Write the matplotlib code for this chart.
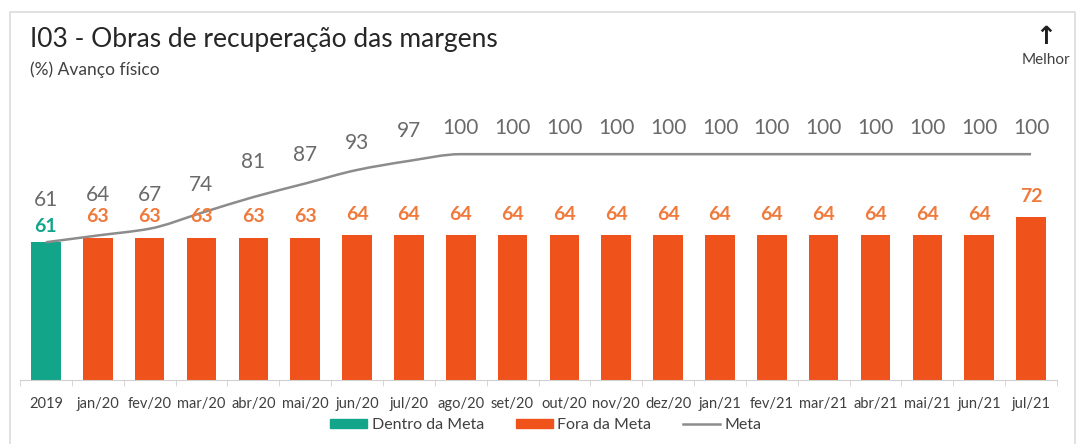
import numpy as np
import matplotlib
matplotlib.use("Agg")
import matplotlib.pyplot as plt
from matplotlib.patches import Patch, Rectangle, PathPatch
from matplotlib.lines import Line2D
from matplotlib.path import Path

categories = ["2019", "jan/20", "fev/20", "mar/20", "abr/20", "mai/20", "jun/20", "jul/20",
              "ago/20", "set/20", "out/20", "nov/20", "dez/20", "jan/21", "fev/21", "mar/21",
              "abr/21", "mai/21", "jun/21", "jul/21"]
realizado = [61, 63, 63, 63, 63, 63, 64, 64, 64, 64, 64, 64, 64, 64, 64, 64, 64, 64, 64, 72]
meta = [61, 64, 67, 74, 81, 87, 93, 97, 100, 100, 100, 100, 100, 100, 100, 100, 100, 100, 100, 100]
dentro = [True] + [False] * 19

W, H = 1079, 444
fig = plt.figure(figsize=(W / 100, H / 100), dpi=100)

GREEN = "#12A58A"
ORANGE = "#F0521C"
ORANGE_TXT = "#F07A3C"
GRAY_LINE = "#8C8C8C"
GRAY_TXT = "#6A6A6A"

n = len(categories)
x = np.arange(n)
left_px, right_px, base_px, top_px = 20, 1057, 380, 109
ax = fig.add_axes([left_px / W, 1 - base_px / H, (right_px - left_px) / W, (base_px - top_px) / H])
ax.set_xlim(-0.5, n - 0.5)
ax.set_ylim(0, 120)

colors = [GREEN if d else ORANGE for d in dentro]
ax.bar(x, realizado, width=0.57, color=colors, zorder=2)

# smoothed meta line (monotone cubic tangents -> cubic Bezier)
px = x.astype(float)
py = np.array(meta, dtype=float)
d = np.diff(py)
m = np.zeros(n)
m[0], m[-1] = d[0], d[-1]
for i in range(1, n - 1):
    if d[i - 1] * d[i] <= 0:
        m[i] = 0.0
    else:
        m[i] = 2 * d[i - 1] * d[i] / (d[i - 1] + d[i])
verts = [(px[0], py[0])]
codes = [Path.MOVETO]
for i in range(n - 1):
    verts += [(px[i] + 1 / 3, py[i] + m[i] / 3),
              (px[i + 1] - 1 / 3, py[i + 1] - m[i + 1] / 3),
              (px[i + 1], py[i + 1])]
    codes += [Path.CURVE4] * 3
ax.add_patch(PathPatch(Path(verts, codes), fill=False, edgecolor=GRAY_LINE, lw=1.8, zorder=3))

bar_lbl_off = [5] + [9] * (n - 1)
meta_lbl_off = [23, 22, 17, 13, 18, 13, 12, 14] + [12] * (n - 8)
for i in range(n):
    ax.annotate(str(realizado[i]), (x[i], realizado[i]), xytext=(0, bar_lbl_off[i]),
                textcoords="offset points", ha="center", va="bottom",
                fontsize=14, fontweight="bold", color=GREEN if dentro[i] else ORANGE_TXT,
                family="Lato", zorder=4)
    ax.annotate(str(meta[i]), (x[i], meta[i]), xytext=(0, meta_lbl_off[i]),
                textcoords="offset points", ha="center", va="bottom",
                fontsize=15, color=GRAY_TXT, family="Lato", zorder=4)

for s in ["top", "right", "left"]:
    ax.spines[s].set_visible(False)
ax.spines["bottom"].set_color("#D0D0D0")
ax.set_yticks([])
ax.set_xticks(x)
ax.set_xticklabels(categories, fontsize=10.5, color="#404040", family="Lato")
ax.tick_params(axis="x", which="major", length=0, pad=12)
ax.set_xticks(np.arange(-0.5, n, 1.0), minor=True)
ax.tick_params(axis="x", which="minor", length=4, color="#D0D0D0")

handles = [Patch(color=GREEN, label="Dentro da Meta"),
           Patch(color=ORANGE, label="Fora da Meta"),
           Line2D([0], [0], color=GRAY_LINE, lw=1.8, label="Meta")]
fig.legend(handles=handles, loc="center", bbox_to_anchor=(546 / W, 1 - 425 / H), ncol=3,
           frameon=False, prop={"family": "Lato", "size": 11.5}, handlelength=2.3,
           handleheight=0.5, columnspacing=2.0, handletextpad=0.3, labelcolor="#404040")

fig.patches.append(Rectangle((10 / W, -0.05), (1075 - 10) / W, 1.05 - 12 / H,
                             transform=fig.transFigure, fill=False, edgecolor="#DCDCDC", lw=1.2))

fig.text(30 / W, 1 - 40 / H, "I03 - Obras de recuperação das margens", fontsize=19,
         family="Lato", color="#262626", va="center", ha="left")
fig.text(30 / W, 1 - 70 / H, "(%) Avanço físico", fontsize=12.5, family="Lato",
         color="#404040", va="center", ha="left")
fig.text(1046 / W, 1 - 37 / H, "↑", fontsize=18, family="DejaVu Sans", color="#202020",
         va="center", ha="center", fontweight="bold")
fig.text(1046 / W, 1 - 60 / H, "Melhor", fontsize=11, family="Lato", color="#404040",
         va="center", ha="center")

fig.savefig("out.png", dpi=100)
